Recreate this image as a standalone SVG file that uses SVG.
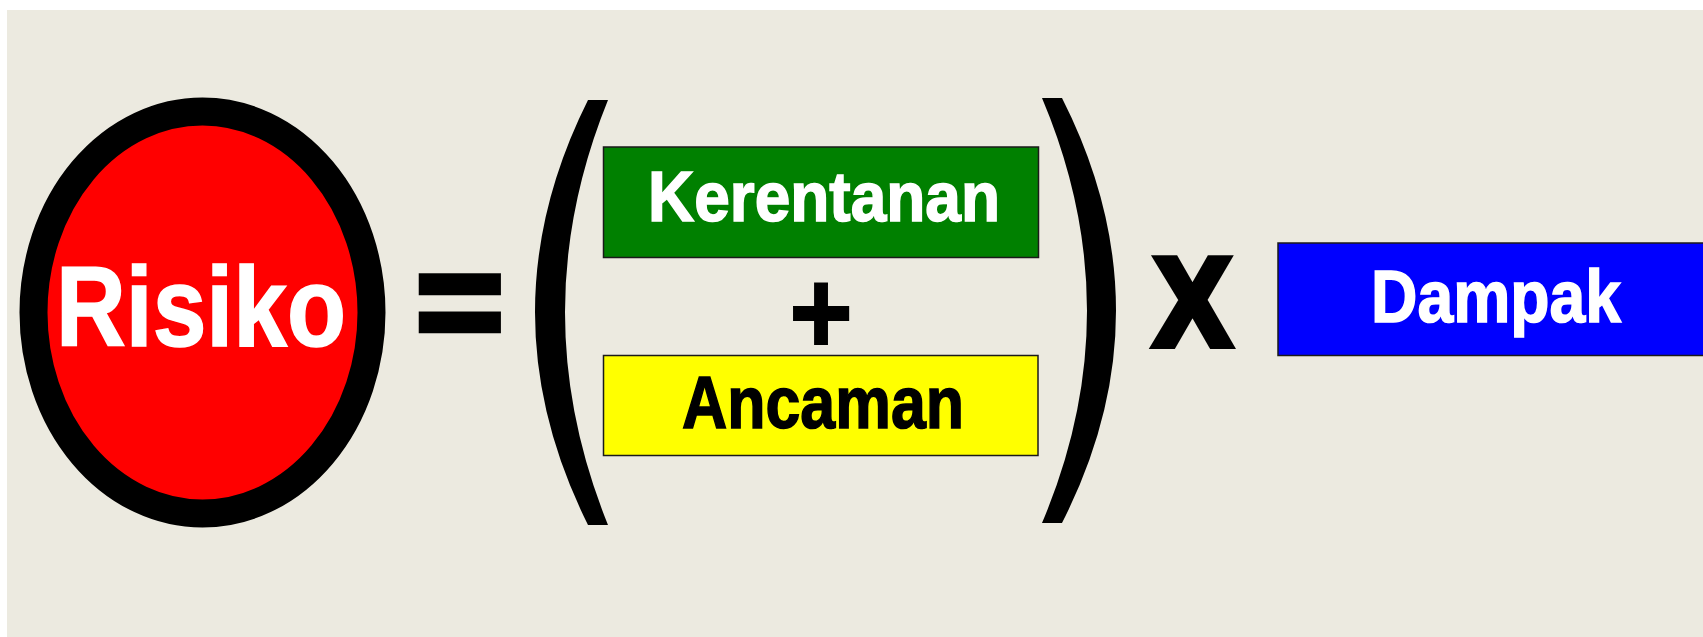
<svg xmlns="http://www.w3.org/2000/svg" width="1703" height="637" viewBox="0 0 1703 637">
  <style>
    .lbl { font-family: "Liberation Sans", Arial, sans-serif; font-weight: bold; stroke-linejoin: miter; }
    .w { fill: #ffffff; stroke: #ffffff; stroke-width: 1.6; }
    .k { fill: #000000; stroke: #000000; stroke-width: 1.6; }
    .box { stroke: #1a1a1a; stroke-width: 1.5; }
    .paren { fill: #000000; }
  </style>
  <!-- page and canvas -->
  <rect x="0" y="0" width="1703" height="637" fill="#ffffff"/>
  <rect x="7" y="10" width="1696" height="627" fill="#ECEAE0"/>

  <!-- Risiko -->
  <g id="risiko">
    <ellipse cx="202.5" cy="312.5" rx="169" ry="201" fill="#FF0000" stroke="#000000" stroke-width="28"/>
    <text class="lbl w" x="56" y="346" font-size="114" textLength="290" lengthAdjust="spacingAndGlyphs">Risiko</text>
  </g>

  <!-- equals sign -->
  <g id="equals">
    <text class="lbl k" transform="translate(416,349.5) scale(1,0.94)" x="0" y="0" font-size="150" style="stroke-width:7">=</text>
  </g>

  <!-- brackets around the sum -->
  <g id="paren-left">
    <path class="paren" d="M588,100 L608,100 Q522,312 608,525 L588,525 Q482,312 588,100 Z"/>
  </g>
  <g id="paren-right">
    <path class="paren" d="M1042,98 L1062,98 Q1170,311 1062,523 L1042,523 Q1132,311 1042,98 Z"/>
  </g>

  <!-- Kerentanan -->
  <g id="kerentanan">
    <rect class="box" x="603.5" y="147" width="435" height="110.5" fill="#008000"/>
    <text class="lbl w" x="648" y="221" font-size="71" textLength="352" lengthAdjust="spacingAndGlyphs">Kerentanan</text>
  </g>

  <!-- plus sign -->
  <g id="plus">
    <text class="lbl k" transform="translate(821,353) scale(1,1.1)" x="0" y="0" font-size="108" text-anchor="middle" style="stroke-width:2">+</text>
  </g>

  <!-- Ancaman -->
  <g id="ancaman">
    <rect class="box" x="603.5" y="355.5" width="434.5" height="100" fill="#FFFF00"/>
    <text class="lbl k" x="682" y="427.5" font-size="75" textLength="282" lengthAdjust="spacingAndGlyphs">Ancaman</text>
  </g>

  <!-- times sign -->
  <g id="times">
    <text class="lbl k" transform="translate(1192.5,345) scale(0.91,1)" x="0" y="0" font-size="125" text-anchor="middle" style="stroke-width:8">X</text>
  </g>

  <!-- Dampak -->
  <g id="dampak">
    <rect class="box" x="1278" y="243" width="430" height="112.5" fill="#0000FF"/>
    <text class="lbl w" x="1371" y="322" font-size="75" textLength="250" lengthAdjust="spacingAndGlyphs">Dampak</text>
  </g>

  <!-- no connectors in this formula -->
  <g id="connectors"/>
</svg>
